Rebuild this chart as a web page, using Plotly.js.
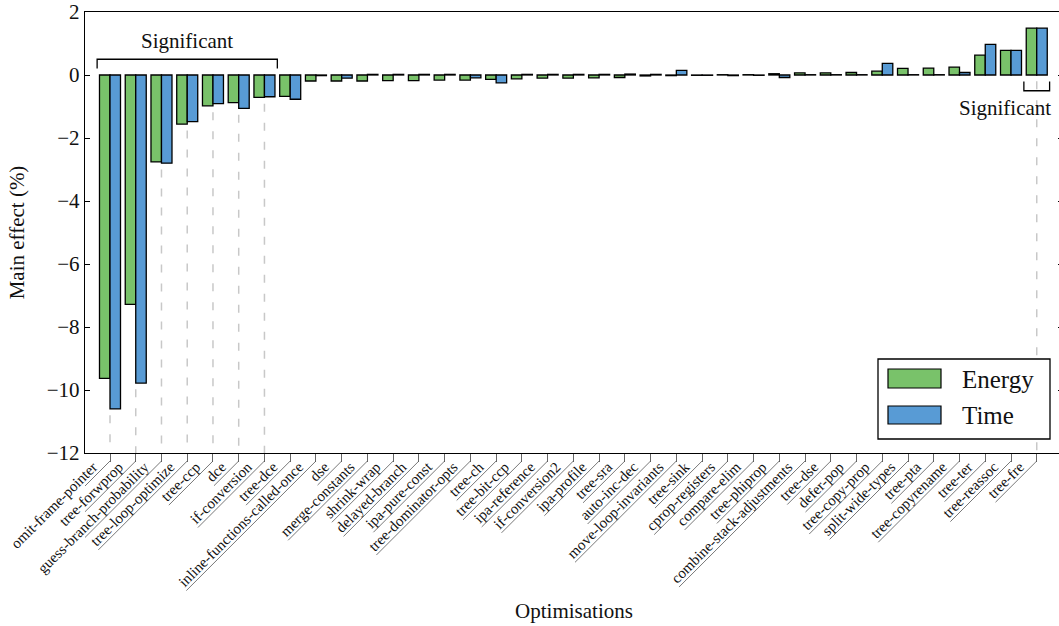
<!DOCTYPE html>
<html>
<head>
<meta charset="utf-8">
<script src="https://cdn.plot.ly/plotly-3.0.1.min.js"></script>
<style>
html,body{margin:0;padding:0;overflow:hidden;background:#fff;}
#chart{width:1063px;height:626px;}
</style>
</head>
<body>
<div id="chart"></div>
<script>
const categories = [
  "omit-frame-pointer","tree-forwprop","guess-branch-probability","tree-loop-optimize",
  "tree-ccp","dce","if-conversion","tree-dce","inline-functions-called-once","dse",
  "merge-constants","shrink-wrap","delayed-branch","ipa-pure-const","tree-dominator-opts",
  "tree-ch","tree-bit-ccp","ipa-reference","if-conversion2","ipa-profile","tree-sra",
  "auto-inc-dec","move-loop-invariants","tree-sink","cprop-registers","compare-elim",
  "tree-phiprop","combine-stack-adjustments","tree-dse","defer-pop","tree-copy-prop",
  "split-wide-types","tree-pta","tree-copyrename","tree-ter","tree-reassoc","tree-fre"
];
const energy = [
  -9.63,-7.28,-2.76,-1.56,-0.98,-0.88,-0.71,-0.68,-0.19,-0.19,
  -0.19,-0.18,-0.18,-0.16,-0.16,-0.14,-0.12,-0.10,-0.10,-0.09,
  -0.08,-0.03,-0.02,-0.01,0.01,0.01,0.04,0.07,0.07,0.08,
  0.12,0.21,0.22,0.25,0.63,0.78,1.49
];
const time = [
  -10.6,-9.78,-2.80,-1.48,-0.91,-1.06,-0.69,-0.77,-0.02,-0.10,
  0.02,0.02,0.02,0.02,-0.09,-0.25,0.02,0.02,0.02,0.02,
  0.03,0.02,0.15,-0.01,-0.02,-0.01,-0.08,0.01,0.01,0.01,
  0.37,0.01,0.01,0.08,0.97,0.78,1.49
];
const significant = [
  1,1,1,1,1,1,1,0,0,0, 0,0,0,0,0,0,0,0,0,0,
  0,0,0,0,0,0,0,0,0,0, 0,0,0,0,0,0,1
];
const seriesNames = ["Energy","Time"];
const yTicks = [-12,-10,-8,-6,-4,-2,0,2];

const GREEN = "rgb(121,194,106)";
const BLUE = "rgb(88,155,213)";
const FONT = "Liberation Serif";
const TICKFS = 15;

// pixel helpers for the plot frame (left 85, right 1063, top 12, bottom 453)
const PL = 85, PR = 1063, PT = 12, PB = 453;
const px = x => (x - PL) / (PR - PL);
const py = y => (PB - y) / (PB - PT);

const shapes = [];
// dashed guide lines for significant optimisations
categories.forEach((c, i) => {
  if (!significant[i]) return;
  const lo = Math.min(energy[i], time[i], 0);
  shapes.push({type:"line", xref:"x", yref:"y", x0:i, x1:i, y0:lo - 0.2, y1:-12,
    line:{color:"#c8c8c8", width:1.5, dash:"8px,11px"}, layer:"below"});
});
// brackets
shapes.push({type:"path", xref:"x", yref:"y",
  path:"M -0.5,0.21 L -0.5,0.5 L 6.5,0.5 L 6.5,0.21", line:{color:"#000", width:1.3}});
shapes.push({type:"path", xref:"x", yref:"y",
  path:"M 35.5,-0.21 L 35.5,-0.5 L 36.5,-0.5 L 36.5,-0.21", line:{color:"#000", width:1.3}});

// underlines for rotated tick labels (start at tick end, run down-left)
const cv = document.createElement("canvas").getContext("2d");
cv.font = TICKFS + "px '" + FONT + "'";
categories.forEach((c, i) => {
  const w = cv.measureText(c).width / Math.SQRT2 + 10;
  shapes.push({type:"line", xref:"x", xsizemode:"pixel", xanchor:i, x0:0, x1:-w,
    yref:"paper", ysizemode:"pixel", yanchor:0, y0:-8, y1:-8 - w,
    line:{color:"#555", width:0.8}});
});

// custom legend
shapes.push({type:"rect", xref:"paper", yref:"paper", x0:px(878), x1:px(1050), y0:py(439), y1:py(359),
  fillcolor:"#fff", line:{color:"#000", width:1.3}, layer:"above"});
shapes.push({type:"rect", xref:"paper", yref:"paper", x0:px(888), x1:px(941), y0:py(388), y1:py(369),
  fillcolor:GREEN, line:{color:"#000", width:1.2}, layer:"above"});
shapes.push({type:"rect", xref:"paper", yref:"paper", x0:px(888), x1:px(941), y0:py(424), y1:py(406),
  fillcolor:BLUE, line:{color:"#000", width:1.2}, layer:"above"});

const annotations = [
  {text:"Significant", xref:"x", yref:"y", x:3, y:1.08, showarrow:false,
   xanchor:"center", yanchor:"middle", font:{family:FONT, size:21, color:"#111"}},
  {text:"Significant", xref:"x", yref:"y", x:34.75, y:-1.05, showarrow:false,
   xanchor:"center", yanchor:"middle", font:{family:FONT, size:21, color:"#111"}},
  {text:seriesNames[0], xref:"paper", yref:"paper", x:px(960), y:py(379), showarrow:false,
   xanchor:"left", yanchor:"middle", font:{family:FONT, size:25, color:"#111"}},
  {text:seriesNames[1], xref:"paper", yref:"paper", x:px(960), y:py(415), showarrow:false,
   xanchor:"left", yanchor:"middle", font:{family:FONT, size:25, color:"#111"}}
];

const traces = [
  {type:"bar", name:seriesNames[0], x:categories, y:energy,
   marker:{color:GREEN, line:{color:"#000", width:1.3}}},
  {type:"bar", name:seriesNames[1], x:categories, y:time,
   marker:{color:BLUE, line:{color:"#000", width:1.3}}}
];

const layout = {
  width:1063, height:626,
  margin:{l:PL, r:0, t:PT, b:626-PB, pad:0},
  paper_bgcolor:"#fff", plot_bgcolor:"#fff",
  font:{family:FONT, color:"#111"},
  showlegend:false,
  barmode:"group", bargap:0.184, bargroupgap:0,
  xaxis:{
    type:"category", categoryorder:"array", categoryarray:categories,
    range:[-0.971, 37.02], tickangle:-45,
    ticks:"outside", ticklen:8, tickcolor:"#666", tickwidth:1,
    ticklabelshift:0, ticklabelstandoff:0,
    showline:true, linecolor:"#000", linewidth:1.3, mirror:true,
    showgrid:false, zeroline:false,
    tickfont:{family:FONT, size:TICKFS, color:"#111"},
    title:{text:"Optimisations", standoff:14, font:{family:FONT, size:21, color:"#111"}},
    automargin:false
  },
  yaxis:{
    range:[-12, 2], tickvals:yTicks,
    ticks:"inside", ticklen:5, tickcolor:"#000", tickwidth:1,
    showline:true, linecolor:"#000", linewidth:1.3, mirror:"ticks",
    showgrid:false, zeroline:false,
    tickfont:{family:FONT, size:21, color:"#111"},
    title:{text:"Main effect (%)", standoff:16, font:{family:FONT, size:21, color:"#111"}},
    automargin:false
  },
  shapes:shapes,
  annotations:annotations
};

Plotly.newPlot("chart", traces, layout, {displayModeBar:false, staticPlot:true}).then(gd => {
  // place the rotated labels so they sit just above their underlines, as in the reference
  const txt = Array.from(gd.querySelectorAll(".xtick text")).find(t => t.textContent === categories[0]);
  if (!txt) return;
  const r = txt.getBoundingClientRect();
  const box = gd.getBoundingClientRect();
  const h = txt.getBBox().height;
  const asc = 0.805 * h, desc = h - asc;
  const ex = (r.right - box.left) - desc / Math.SQRT2;
  const ey = (r.top - box.top) + asc / Math.SQRT2;
  const tickX = gd._fullLayout.xaxis.l2p(0) + gd._fullLayout._size.l;
  const dx = Math.round((tickX - 11.7) - ex);
  const dy = Math.round((PB + 15) - ey);
  return Plotly.relayout(gd, {"xaxis.ticklabelshift": dx, "xaxis.ticklabelstandoff": dy});
});
</script>
</body>
</html>
